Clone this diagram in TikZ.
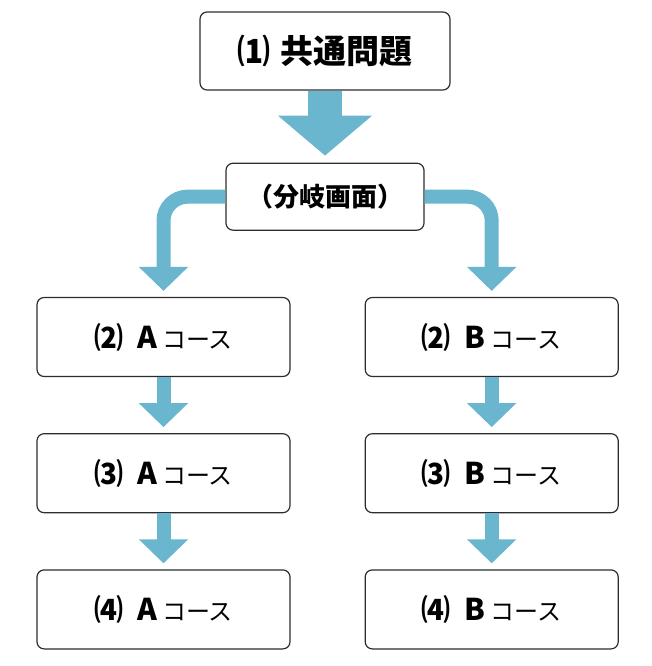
\documentclass[tikz,border=0pt]{standalone}
\usepackage{fontspec}
\setmainfont{Noto Sans CJK JP}
\usetikzlibrary{positioning, arrows.meta}
\definecolor{flowblue}{RGB}{106,182,206}
\definecolor{frame}{RGB}{45,45,45}
\newcommand{\courselabel}[2]{{\fontsize{29}{30}\selectfont\bfseries #1}\hspace{14pt}{\fontsize{30}{30}\selectfont\bfseries #2}\hspace{5pt}コース}

\begin{document}
\begin{tikzpicture}[
        x=1pt, y=-1pt,
        box/.style={draw=frame, line width=1.2pt, fill=white, rounded corners=2.5mm, align=center, inner sep=0pt},
        topbox/.style={box, minimum width=250pt, minimum height=78pt, font=\fontsize{33}{35}\selectfont\bfseries},
        splitbox/.style={box, minimum width=198pt, minimum height=67pt, font=\fontsize{26}{28}\selectfont\bfseries},
        course/.style={box, minimum width=253pt, minimum height=79pt, font=\fontsize{24}{28}\selectfont},
        bigflow/.style={flowblue, line width=34pt, -{Triangle[width=92pt, length=40pt]}, shorten >=7pt},
        flow/.style={flowblue, line width=14pt, -{Triangle[width=48pt, length=24pt]}, shorten >=6pt}
    ]
    \useasboundingbox (0,0) rectangle (652,666);
    % Nodes
    \node[topbox] (common) at (325,51) {⑴\hspace{10pt}共通問題};
    \node[splitbox, below=72pt of common] (branch) {（分岐画面）};
    \node[course] (a2) at (163.5,337) {\courselabel{⑵}{A}};
    \node[course, right=74pt of a2] (b2) {\courselabel{⑵}{B}};
    \node[course, below=56pt of a2] (a3) {\courselabel{⑶}{A}};
    \node[course, below=56pt of b2] (b3) {\courselabel{⑶}{B}};
    \node[course, below=56pt of a3] (a4) {\courselabel{⑷}{A}};
    \node[course, below=56pt of b3] (b4) {\courselabel{⑷}{B}};

    % Arrows
    \draw[bigflow] (common) -- (branch);
    \draw[flow, rounded corners=24pt] (branch.west) -| (a2.north);
    \draw[flow, rounded corners=24pt] (branch.east) -| (b2.north);
    \draw[flow] (a2) -- (a3);
    \draw[flow] (a3) -- (a4);
    \draw[flow] (b2) -- (b3);
    \draw[flow] (b3) -- (b4);
\end{tikzpicture}
\end{document}
